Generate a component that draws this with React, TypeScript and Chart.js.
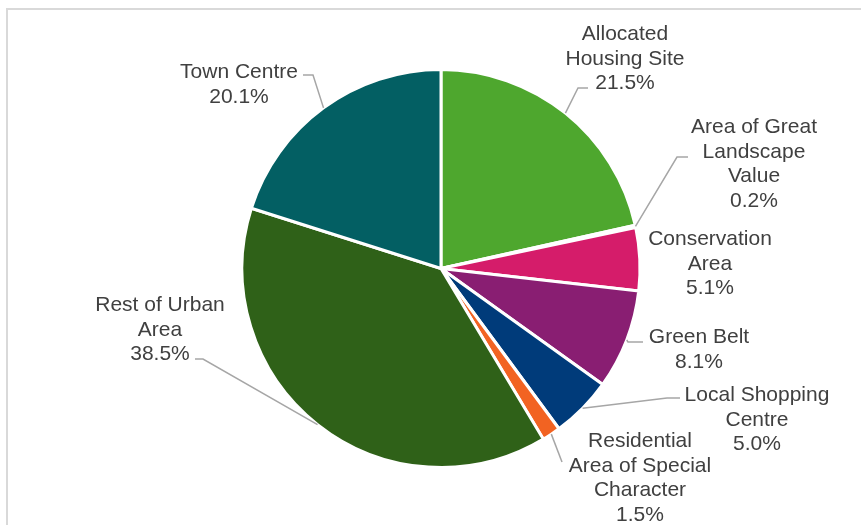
import React, { useEffect, useRef } from "react";
import { Chart, registerables } from "chart.js";

Chart.register(...registerables);

// ---- Data ----
const categories = [
  "Allocated Housing Site",
  "Area of Great Landscape Value",
  "Conservation Area",
  "Green Belt",
  "Local Shopping Centre",
  "Residential Area of Special Character",
  "Rest of Urban Area",
  "Town Centre",
];
const values = [21.5, 0.2, 5.1, 8.1, 5.0, 1.5, 38.5, 20.1];

// ---- Styles ----
const sliceColors = [
  "#4ea72e",
  "#b9d9a0",
  "#d51c6a",
  "#891e72",
  "#003b7a",
  "#f26322",
  "#2f6118",
  "#035f63",
];
// wrapped label text lines (category part)
const labelLines = [
  ["Allocated", "Housing Site"],
  ["Area of Great", "Landscape", "Value"],
  ["Conservation", "Area"],
  ["Green Belt"],
  ["Local Shopping", "Centre"],
  ["Residential", "Area of Special", "Character"],
  ["Rest of Urban", "Area"],
  ["Town Centre"],
];
// label layout: centre x, first baseline y
const labelX = [625, 754, 710, 699, 757, 640, 160, 239];
const labelY = [40, 133, 245, 343, 401, 447, 311, 78];
// leader line bend points (after the slice edge)
const leaderPts: number[][][] = [
  [[578, 88], [588, 88]],
  [[677, 157], [688, 157]],
  [],
  [[628, 342], [643, 342]],
  [[667, 398], [680, 398]],
  [[562, 462]],
  [[203, 359], [195, 359]],
  [[313, 75], [303, 75]],
];

const LINE_H = 24.5;

const labelPlugin = {
  id: "pieLabels",
  afterDatasetsDraw(chart: any) {
    const ctx = chart.ctx;
    const meta = chart.getDatasetMeta(0);
    ctx.save();
    meta.data.forEach((arc: any, i: number) => {
      const p = arc.getProps(["x", "y", "startAngle", "endAngle", "outerRadius"], true);
      const mid = (p.startAngle + p.endAngle) / 2;
      const sx = p.x + Math.cos(mid) * p.outerRadius;
      const sy = p.y + Math.sin(mid) * p.outerRadius;
      const pts = leaderPts[i];
      if (pts.length) {
        ctx.beginPath();
        ctx.strokeStyle = "#a6a6a6";
        ctx.lineWidth = 1.5;
        ctx.moveTo(sx, sy);
        pts.forEach((q) => ctx.lineTo(q[0], q[1]));
        ctx.stroke();
      }
      const lines = [...labelLines[i], values[i].toFixed(1) + "%"];
      ctx.fillStyle = "#404040";
      ctx.font = '21px "Liberation Sans", Arial, sans-serif';
      ctx.textAlign = "center";
      ctx.textBaseline = "alphabetic";
      lines.forEach((t, k) => {
        ctx.fillText(t, labelX[i], labelY[i] + k * LINE_H);
      });
    });
    ctx.restore();
  },
};

export default function App() {
  const ref = useRef<HTMLCanvasElement | null>(null);
  useEffect(() => {
    if (!ref.current) return;
    const chart = new Chart(ref.current, {
      type: "pie",
      data: {
        labels: categories,
        datasets: [
          {
            data: values,
            backgroundColor: sliceColors,
            borderColor: "#ffffff",
            borderWidth: 3,
          },
        ],
      },
      options: {
        responsive: false,
        animation: false,
        devicePixelRatio: 1,
        layout: { padding: { left: 240, right: 219, top: 68, bottom: 56 } },
        plugins: {
          legend: { display: false },
          tooltip: { enabled: false },
        },
      },
      plugins: [labelPlugin],
    });
    return () => chart.destroy();
  }, []);

  return (
    <div
      style={{
        position: "fixed",
        left: 0,
        top: 0,
        width: 861,
        height: 525,
        overflow: "hidden",
        background: "#ffffff",
      }}
    >
      <div
        style={{
          position: "absolute",
          left: 6,
          top: 8,
          width: 1000,
          height: 1000,
          border: "2px solid #d9d9d9",
          boxSizing: "border-box",
        }}
      />
      <canvas
        ref={ref}
        width={861}
        height={525}
        style={{ position: "absolute", left: 0, top: 0, display: "block" }}
      />
    </div>
  );
}
